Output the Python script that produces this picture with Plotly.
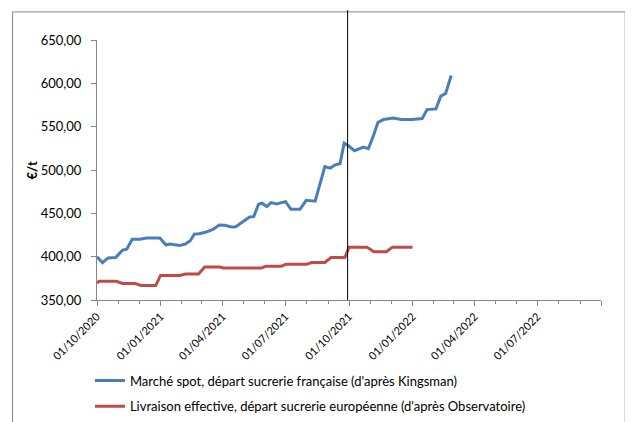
import plotly.graph_objects as go

# Blue series: Marché spot (Kingsman)
spot_dates = ["2020-10-01", "2020-10-09", "2020-10-17", "2020-10-28", "2020-11-07", "2020-11-13",
              "2020-11-21", "2020-12-02", "2020-12-12", "2020-12-31", "2021-01-09", "2021-01-14",
              "2021-01-29", "2021-02-06", "2021-02-13", "2021-02-19", "2021-02-26", "2021-03-08",
              "2021-03-18", "2021-03-27", "2021-04-04", "2021-04-14", "2021-04-20", "2021-04-30",
              "2021-05-10", "2021-05-16", "2021-05-23", "2021-05-28", "2021-06-04", "2021-06-10",
              "2021-06-18", "2021-07-01", "2021-07-09", "2021-07-22", "2021-07-31", "2021-08-13",
              "2021-08-20", "2021-08-27", "2021-09-04", "2021-09-11", "2021-09-18", "2021-09-24",
              "2021-09-30", "2021-10-09", "2021-10-22", "2021-10-29", "2021-11-05", "2021-11-12",
              "2021-11-20", "2021-12-04", "2021-12-16", "2021-12-31", "2022-01-15", "2022-01-22",
              "2022-02-04", "2022-02-11", "2022-02-18", "2022-02-26"]
spot_values = [400.0, 393.0, 398.5, 399.0, 407.5, 408.7,
               420.0, 420.0, 421.5, 421.5, 413.4, 414.5,
               413.0, 414.5, 418.4, 426.0, 426.5, 428.4,
               431.5, 436.5, 436.2, 434.2, 434.6, 440.4,
               445.8, 446.2, 460.5, 461.7, 457.8, 462.4,
               460.9, 463.5, 454.7, 454.7, 465.0, 464.0,
               484.8, 504.0, 502.2, 506.0, 507.2, 531.0,
               528.0, 522.2, 526.5, 524.6, 538.8, 555.0,
               558.2, 560.1, 558.2, 558.2, 559.3, 569.7,
               570.5, 585.2, 588.3, 609.0]

# Red series: Livraison effective (Observatoire)
obs_dates = ["2020-10-01", "2020-10-04", "2020-10-29", "2020-11-07", "2020-11-25", "2020-12-04",
             "2020-12-25", "2021-01-01", "2021-01-29", "2021-02-06", "2021-02-25", "2021-03-06",
             "2021-03-28", "2021-04-02", "2021-05-27", "2021-06-03", "2021-06-25", "2021-07-02",
             "2021-08-01", "2021-08-08", "2021-08-27", "2021-09-05", "2021-09-25", "2021-10-01",
             "2021-10-27", "2021-11-06", "2021-11-24", "2021-12-03", "2022-01-01"]
obs_values = [369.7, 371.5, 371.5, 369.0, 369.0, 366.7,
              366.7, 378.3, 378.3, 380.0, 380.0, 388.0,
              388.0, 387.0, 387.0, 389.0, 389.0, 391.3,
              391.3, 393.3, 393.3, 399.0, 399.0, 411.0,
              411.0, 405.6, 405.6, 411.0, 411.0]

tick_dates = ["2020-10-01", "2021-01-01", "2021-04-01", "2021-07-01", "2021-10-01",
              "2022-01-01", "2022-04-01", "2022-07-01", "2022-10-01"]
tick_labels = ["01/10/2020", "01/01/2021", "01/04/2021", "01/07/2021", "01/10/2021",
               "01/01/2022", "01/04/2022", "01/07/2022", ""]

y_ticks = [350, 400, 450, 500, 550, 600, 650]
marker_date = "2021-09-29"

FONT = "Lato"
AXIS_COLOR = "#868686"

fig = go.Figure()
fig.add_trace(go.Scatter(
    x=spot_dates, y=spot_values, mode="lines",
    name="Marché spot, départ sucrerie française (d'après Kingsman)",
    line=dict(color="#4A7EBB", width=3), legendgroup="a"))
fig.add_trace(go.Scatter(
    x=obs_dates, y=obs_values, mode="lines",
    name="Livraison effective, départ sucrerie européenne (d'après Observatoire)",
    line=dict(color="#BE4B48", width=3), legendgroup="b"))

fig.update_layout(
    width=625, height=414,
    margin=dict(l=89, r=32, t=32, b=122, autoexpand=False),
    paper_bgcolor="white", plot_bgcolor="white",
    separators=", ",
    font=dict(family=FONT, size=13, color="#000000"),
    showlegend=True,
    legend=dict(x=-0.014, y=-0.252, xanchor="left", yanchor="top",
                font=dict(family=FONT, size=13), tracegroupgap=6,
                bgcolor="rgba(0,0,0,0)"),
    xaxis=dict(
        type="date", range=["2020-10-01", "2022-10-01"], automargin=False,
        tickvals=tick_dates, ticktext=tick_labels, tickangle=-45,
        tickfont=dict(family=FONT, size=11),
        ticks="outside", ticklen=5, tickcolor=AXIS_COLOR, tickwidth=1,
        minor=dict(dtick="M1", tick0="2020-10-01", ticks="outside", ticklen=3,
                   tickcolor=AXIS_COLOR, showgrid=False),
        showline=True, linecolor=AXIS_COLOR, linewidth=1,
        showgrid=False, zeroline=False),
    yaxis=dict(
        range=[350, 650], tickvals=y_ticks, tickformat=".2f", automargin=False,
        tickfont=dict(family=FONT, size=13), ticklabelstandoff=7,
        ticks="outside", ticklen=5, tickcolor=AXIS_COLOR,
        showline=True, linecolor=AXIS_COLOR, linewidth=1,
        showgrid=False, zeroline=False),
)

fig.add_annotation(text="<b>€/t</b>", textangle=-90, xref="paper", yref="paper",
                   x=-0.128, y=0.5, xanchor="center", yanchor="middle",
                   showarrow=False, font=dict(family=FONT, size=13))

# vertical marker line
fig.add_shape(type="line", xref="x", yref="paper", x0=marker_date, x1=marker_date,
              y0=0, y1=1.115, line=dict(color="#000000", width=1))

# chart border
fig.add_shape(type="rect", xref="paper", yref="paper", x0=-0.1675, x1=1.048,
              y0=-0.6, y1=1.108, line=dict(color=AXIS_COLOR, width=1), layer="below")

fig.write_html("out.html")
